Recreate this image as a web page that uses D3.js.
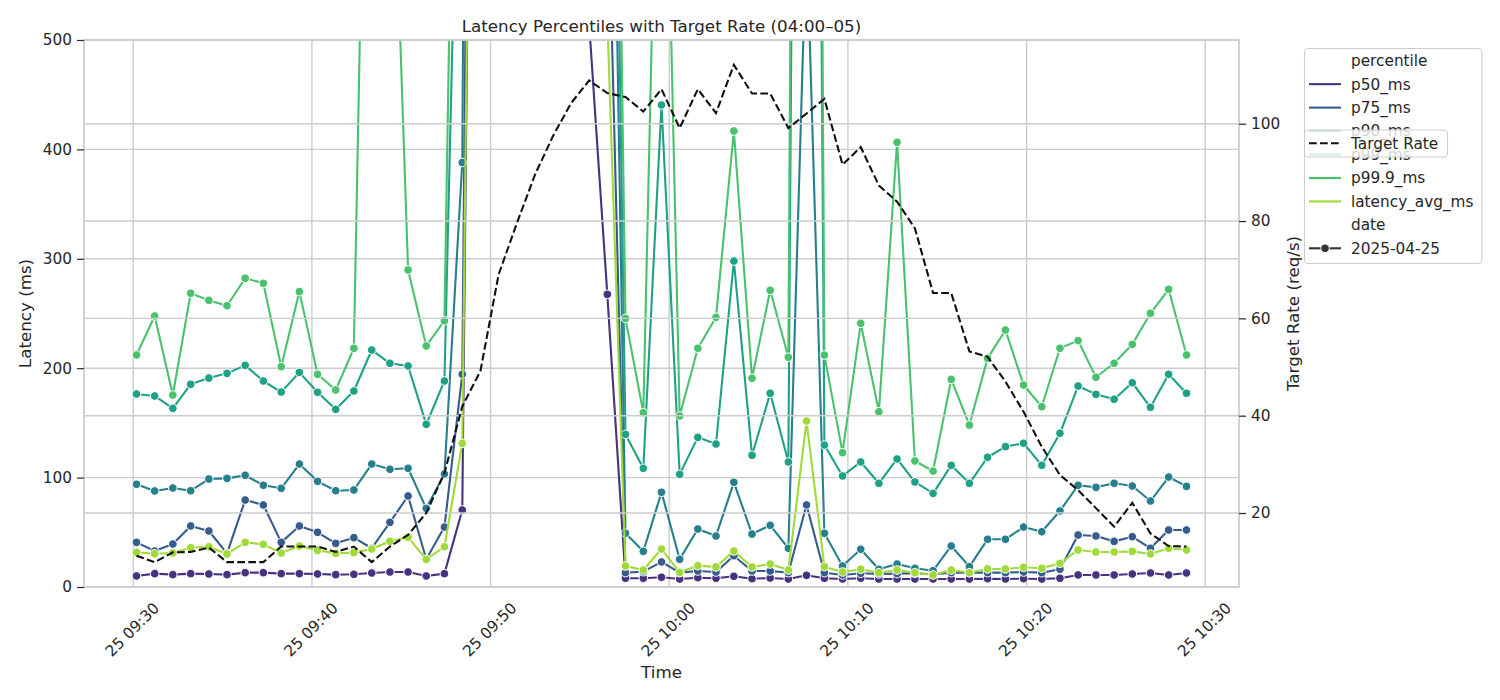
<!DOCTYPE html>
<meta charset="utf-8">
<style>
  body { margin: 0; background: #fff; }
  text { font-family: "DejaVu Sans", sans-serif; fill: #262626; }
</style>
<svg width="1500" height="700"></svg>
<script src="https://d3js.org/d3.v7.min.js"></script>
<script>

// sample times (2025-04-25)
var timeStrings = [
  "09:30:11", "09:31:12", "09:32:13", "09:33:13", "09:34:14", "09:35:15", "09:36:16", "09:37:17",
  "09:38:17", "09:39:18", "09:40:19", "09:41:20", "09:42:21", "09:43:21", "09:44:22", "09:45:23",
  "09:46:24", "09:47:25", "09:48:25", "09:49:26", "09:50:27", "09:51:28", "09:52:29", "09:53:29",
  "09:54:30", "09:55:31", "09:56:32", "09:57:33", "09:58:33", "09:59:34", "10:00:35", "10:01:36",
  "10:02:37", "10:03:37", "10:04:38", "10:05:39", "10:06:40", "10:07:41", "10:08:41", "10:09:42",
  "10:10:43", "10:11:44", "10:12:45", "10:13:45", "10:14:46", "10:15:47", "10:16:48", "10:17:49",
  "10:18:49", "10:19:50", "10:20:51", "10:21:52", "10:22:53", "10:23:53", "10:24:54", "10:25:55",
  "10:26:56", "10:27:57", "10:28:57"
];

var p50Ms = [
  10.1, 12.2, 11.3, 12.2, 11.9, 11.3, 13.1, 13.1, 12.2, 12.2, 11.9, 11.3, 11.6, 12.8, 13.7, 13.7, 10.1, 12.2, 70.4,
  1700, 2900, 3400, 3300, 2700, 1600, 515,
  267.5,
  8.0, 8.0, 8.9, 7.3, 8.5, 8.0, 9.8, 7.6, 8.2, 7.3, 10.7, 8.0, 7.3, 8.0, 7.3, 7.3,
  7.3, 7.3, 7.3, 7.3, 7.6, 7.3, 7.6, 7.3, 8.0, 11.0, 11.0, 11.0, 11.9, 12.8, 11.0, 12.8
];
var p75Ms = [
  40.8, 32.9, 39.3, 55.8, 51.2, 30.8, 79.5, 75.0, 40.8, 55.8, 50.0, 39.9, 45.1, 35.4, 59.1, 83.2, 25.3, 54.8, 194.4,
  2000, 3600, 4100, 3900, 3300, 2300, 1300,
  670,
  13.1, 14.0, 22.9, 13.1, 14.6, 13.7, 28.6, 14.6, 14.6, 13.1, 75.0, 13.1, 11.0, 12.5, 11.9, 12.2,
  12.5, 11.6, 13.1, 13.1, 13.1, 13.1, 13.7, 13.1, 16.2, 47.5, 46.6, 41.7, 46.0, 35.4, 52.1, 52.1
];
var p90Ms = [
  93.9, 87.8, 90.5, 88.0, 98.7, 99.3, 102.1, 93.0, 90.2, 112.4, 96.6, 88.0, 88.7, 112.4, 107.6, 108.5, 71.9, 103.3, 388.0,
  3100, 4200, 4700, 4500, 3900, 2900, 1900,
  1050,
  49.1, 32.6, 86.6, 25.3, 53.0, 46.6, 95.7, 48.4, 56.4, 35.4, 600, 49.1, 19.2, 34.5, 16.2, 21.0,
  17.1, 14.9, 37.5, 18.6, 43.6, 43.6, 54.8, 50.5, 69.5, 93.0, 91.1, 94.8, 92.3, 78.6, 100.5, 92.0
];
var p99Ms = [
  176.4, 174.6, 163.3, 185.3, 191.0, 195.3, 202.6, 188.3, 178.2, 196.2, 178.0, 162.4, 179.2, 216.6, 204.5, 202.0, 148.7, 188.3, 880,
  3800, 4900, 5300, 5100, 4500, 3500, 2400,
  1230,
  139.5, 108.5, 440.6, 103.0, 136.8, 130.7, 298.0, 120.4, 177.1, 114.3, 2500, 129.8, 101.5, 114.3, 94.8, 117.0,
  96.0, 85.6, 111.2, 94.8, 118.6, 128.3, 131.4, 111.2, 140.5, 183.7, 176.1, 171.6, 186.7, 164.3, 194.4, 177.1
];
var p999Ms = [
  212.1, 247.7, 175.5, 268.5, 262.0, 257.1, 282.2, 277.6, 201.4, 270.0, 194.4, 180.1, 218.2, 1070, 780, 289.8, 220.3, 243.4, 1230,
  4300, 5400, 5800, 5600, 5000, 4000, 2800,
  1400,
  245.5, 159.3, 900, 156.3, 218.2, 246.5, 416.8, 190.8, 271.2, 210.0, 3000, 212.0, 122.8, 241.0, 160.2, 406.5,
  115.2, 106.0, 189.8, 148.0, 209.0, 234.9, 184.6, 164.8, 218.2, 225.2, 191.7, 204.5, 221.8, 250.2, 272.1, 212.1
];
var latencyAvgMs = [
  31.7, 30.4, 31.1, 35.9, 36.8, 30.2, 40.8, 39.0, 31.1, 37.5, 33.5, 30.8, 31.4, 34.7, 41.8, 45.4, 25.3, 36.8, 131.3,
  1600, 3300, 3800, 3600, 3000, 2000, 1100,
  520,
  19.2, 15.5, 34.7, 13.4, 19.5, 18.3, 32.9, 18.3, 21.0, 15.5, 151.7, 18.6, 13.7, 16.2, 13.1, 15.5,
  13.1, 11.0, 15.5, 13.1, 16.5, 16.5, 18.0, 17.1, 21.7, 33.8, 32.0, 32.0, 32.6, 30.2, 35.4, 33.8
];
var targetRate = [
  11.2, 9.9, 11.9, 12.0, 12.9, 9.9, 9.9, 9.9, 13.1, 13.1, 13.1, 12.0, 13.1, 9.9, 13.1, 15.5, 20.0, 28.2, 41.9,
  49.2, 69.0, 79.5, 89.5, 97.4, 104.2, 108.9,
  106.3, 105.5, 102.5, 107.1, 99.1, 107.1, 102.2, 112.1, 106.2, 106.2, 99.1, 102.1, 105.1, 91.6, 95.2, 87.3, 84.0,
  78.5, 65.2, 65.2, 53.2, 52.1, 47.0, 40.8, 33.6, 27.8, 24.7, 21.0, 17.2, 22.1, 15.8, 13.2, 13.1
];

var percentileNames = ["p50_ms", "p75_ms", "p90_ms", "p99_ms", "p99.9_ms", "latency_avg_ms"];
var percentileValues = [p50Ms, p75Ms, p90Ms, p99Ms, p999Ms, latencyAvgMs];
var latencyTicks = [0, 100, 200, 300, 400, 500];
var rateTicks = [20, 40, 60, 80, 100];
var dateLabel = "2025-04-25";

var svg = d3.select("svg"),
    plotL = 84, plotR = 1239, plotT = 40, plotB = 587,
    grid = "#cccccc",
    ink = "#262626";

var parseTime = d3.timeParse("%Y-%m-%d %H:%M:%S");
var times = timeStrings.map(function(s) { return parseTime(dateLabel + " " + s); });

// seaborn viridis palette for 6 hues
var colors = percentileNames.map(function(d, i) { return d3.interpolateViridis((i + 1) / 7); });

var t0 = times[0].getTime(), t1 = times[times.length - 1].getTime(), tp = (t1 - t0) * 0.05;
var x = d3.scaleTime().domain([new Date(t0 - tp), new Date(t1 + tp)]).range([plotL, plotR]);
var y = d3.scaleLinear().domain([0, 500]).range([plotB, plotT]);
var rmin = d3.min(targetRate), rmax = d3.max(targetRate), rp = (rmax - rmin) * 0.05;
var y2 = d3.scaleLinear().domain([rmin - rp, rmax + rp]).range([plotB, plotT]);

var xTicks = x.ticks(d3.timeMinute.every(10));

svg.append("defs").append("clipPath").attr("id", "plot")
  .append("rect").attr("x", plotL).attr("y", plotT).attr("width", plotR - plotL).attr("height", plotB - plotT);

// grid below the latency lines
var g1 = svg.append("g");
g1.selectAll(".xg").data(xTicks).enter().append("line")
    .attr("x1", function(d) { return x(d); }).attr("x2", function(d) { return x(d); })
    .attr("y1", plotT).attr("y2", plotB)
    .attr("stroke", grid).attr("stroke-width", 1.4);
g1.selectAll(".yg").data(latencyTicks).enter().append("line")
    .attr("x1", plotL).attr("x2", plotR)
    .attr("y1", function(d) { return y(d); }).attr("y2", function(d) { return y(d); })
    .attr("stroke", grid).attr("stroke-width", 1.4);

// latency lines
var plot = svg.append("g").attr("clip-path", "url(#plot)");
var line = d3.line()
    .x(function(d, i) { return x(times[i]); })
    .y(function(d) { return y(d); });

percentileValues.forEach(function(vals, s) {
  var g = plot.append("g");
  g.append("path").attr("d", line(vals))
      .attr("fill", "none").attr("stroke", colors[s]).attr("stroke-width", 2.1)
      .attr("stroke-linejoin", "round");
  g.selectAll("circle").data(vals).enter().append("circle")
      .attr("cx", function(d, i) { return x(times[i]); })
      .attr("cy", function(d) { return y(d); })
      .attr("r", 4.3)
      .attr("fill", colors[s]).attr("stroke", "#fff").attr("stroke-width", 1);
});

// right axis grid, drawn on top like the twin axes
svg.append("g").selectAll("line").data(rateTicks).enter().append("line")
    .attr("x1", plotL).attr("x2", plotR)
    .attr("y1", function(d) { return y2(d); }).attr("y2", function(d) { return y2(d); })
    .attr("stroke", grid).attr("stroke-width", 1.4);

var rateLine = d3.line()
    .x(function(d, i) { return x(times[i]); })
    .y(function(d) { return y2(d); });

svg.append("g").attr("clip-path", "url(#plot)").append("path")
    .attr("d", rateLine(targetRate))
    .attr("fill", "none").attr("stroke", "#111").attr("stroke-width", 2.1)
    .attr("stroke-dasharray", "7.7,3.3");

// spines
svg.append("rect").attr("x", plotL).attr("y", plotT).attr("width", plotR - plotL).attr("height", plotB - plotT)
    .attr("fill", "none").attr("stroke", grid).attr("stroke-width", 1.7);

// axes
var yAxisLeft = svg.append("g").attr("transform", "translate(" + plotL + ",0)")
    .call(d3.axisLeft(y).tickValues(latencyTicks).tickSize(7).tickPadding(5));
var yAxisRight = svg.append("g").attr("transform", "translate(" + plotR + ",0)")
    .call(d3.axisRight(y2).tickValues(rateTicks).tickSize(7).tickPadding(5));
[yAxisLeft, yAxisRight].forEach(function(a) {
  a.select(".domain").remove();
  a.attr("font-size", 15.3).attr("font-family", "DejaVu Sans").style("color", ink);
  a.selectAll("line").attr("stroke-width", 1.2);
});

svg.append("g").selectAll("text").data(xTicks).enter().append("text")
    .attr("transform", function(d) { return "translate(" + (x(d) + 27) + ",609) rotate(-45)"; })
    .attr("text-anchor", "end")
    .style("font-size", "15.3px")
    .text(d3.timeFormat("%d %H:%M"));

// labels
svg.append("text").attr("x", (plotL + plotR) / 2).attr("y", 31.5).attr("text-anchor", "middle")
    .style("font-size", "16.7px").text("Latency Percentiles with Target Rate (04:00\u201305)");
svg.append("text").attr("x", (plotL + plotR) / 2).attr("y", 678).attr("text-anchor", "middle")
    .style("font-size", "16.7px").text("Time");
svg.append("text").attr("transform", "translate(31," + (plotT + plotB) / 2 + ") rotate(-90)")
    .attr("text-anchor", "middle").style("font-size", "16.7px").text("Latency (ms)");
svg.append("text").attr("transform", "translate(1299," + (plotT + plotB) / 2 + ") rotate(-90)")
    .attr("text-anchor", "middle").style("font-size", "16.7px").text("Target Rate (req/s)");

// legend for percentile / date
var legend = svg.append("g");
var rowY = function(i) { return 60.7 + i * 23.45; };
legend.append("rect").attr("x", 1304.5).attr("y", 48.5).attr("width", 177.5).attr("height", 215).attr("rx", 4)
    .attr("fill", "#fff").attr("fill-opacity", 0.8).attr("stroke", grid).attr("stroke-width", 1.1);

var legendRows = ["percentile"].concat(percentileNames, ["date", dateLabel]);
legend.selectAll("text").data(legendRows).enter().append("text")
    .attr("x", 1351).attr("y", function(d, i) { return rowY(i); }).attr("dy", "0.35em")
    .style("font-size", "15.3px").text(function(d) { return d; });

percentileNames.forEach(function(d, i) {
  legend.append("line").attr("x1", 1309).attr("x2", 1341)
      .attr("y1", rowY(i + 1)).attr("y2", rowY(i + 1))
      .attr("stroke", colors[i]).attr("stroke-width", 2.1);
});
legend.append("line").attr("x1", 1309).attr("x2", 1341).attr("y1", rowY(8)).attr("y2", rowY(8))
    .attr("stroke", "#333").attr("stroke-width", 2.1);
legend.append("circle").attr("cx", 1325).attr("cy", rowY(8)).attr("r", 4.3)
    .attr("fill", "#333").attr("stroke", "#fff").attr("stroke-width", 1);

// legend for the target rate (twin axes)
var legend2 = svg.append("g");
legend2.append("rect").attr("x", 1304.5).attr("y", 130).attr("width", 143).attr("height", 27).attr("rx", 4)
    .attr("fill", "#fff").attr("fill-opacity", 0.8).attr("stroke", grid).attr("stroke-width", 1.1);
legend2.append("line").attr("x1", 1309).attr("x2", 1341).attr("y1", 143.3).attr("y2", 143.3)
    .attr("stroke", "#111").attr("stroke-width", 2.1).attr("stroke-dasharray", "7.7,3.3");
legend2.append("text").attr("x", 1351).attr("y", 143.3).attr("dy", "0.35em")
    .style("font-size", "15.3px").text("Target Rate");

</script>
